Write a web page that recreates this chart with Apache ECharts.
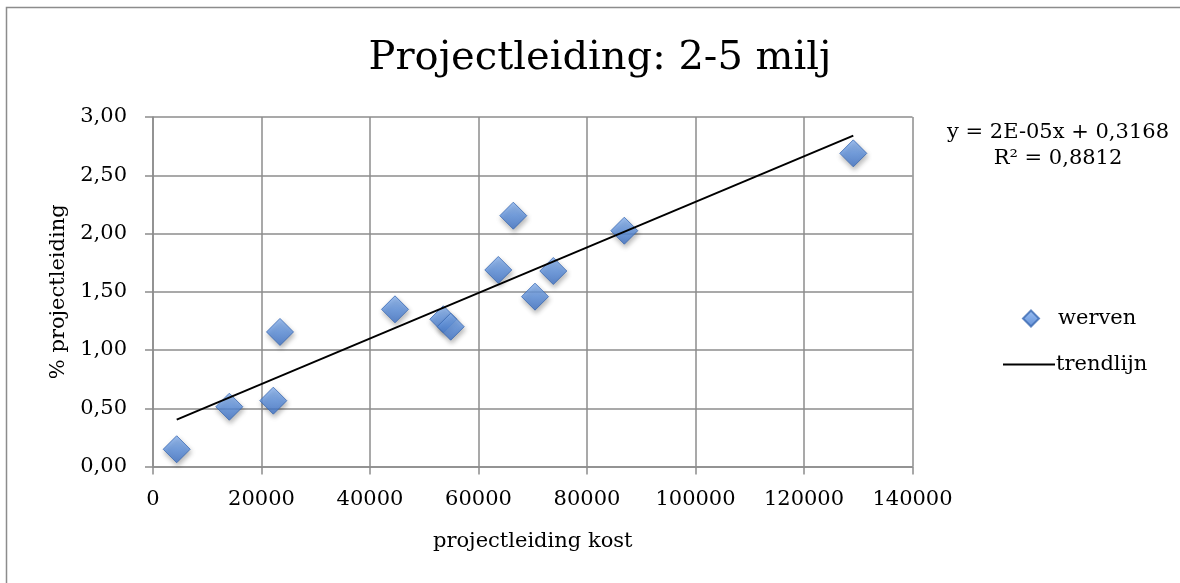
<!DOCTYPE html>
<html>
<head>
<meta charset="utf-8">
<script src="https://cdn.jsdelivr.net/npm/echarts@6/dist/echarts.min.js"></script>
<style>
  html, body { margin: 0; padding: 0; background: #ffffff; }
  #chart { width: 1180px; height: 583px; }
</style>
</head>
<body>
<div id="chart"></div>
<script>
// Projectleiding cost vs. percentage for the 2-5 million projects
const kost = [4369, 14065, 22175, 23410, 44608, 53512, 54876, 63650, 66415, 70415, 73788, 86876, 129088];
const percentage = [0.148, 0.513, 0.565, 1.155, 1.349, 1.264, 1.200, 1.687, 2.153, 1.458, 1.678, 2.024, 2.688];

// Linear trend (slope, intercept) and fit quality
const trendSlope = 0.00001955;
const trendIntercept = 0.3168;
const trendLabel = ['y = 2E-05x + 0,3168', 'R\u00B2 = 0,8812'];

const titleText = 'Projectleiding: 2-5 milj';
const xName = 'projectleiding kost';
const yName = '% projectleiding';
const seriesNames = ['werven', 'trendlijn'];

const FONT = '"DejaVu Serif", "Liberation Serif", serif';

const points = kost.map((x, i) => [x, percentage[i]]);
const xMin = Math.min(...kost), xMax = Math.max(...kost);
const trendPoints = [xMin, xMax].map(x => [x, trendSlope * x + trendIntercept]);

const chart = echarts.init(document.getElementById('chart'), null, { renderer: 'canvas' });

chart.setOption({
  backgroundColor: '#ffffff',
  animation: false,
  title: {
    text: titleText,
    left: 595, top: 34, textAlign: 'center',
    textStyle: { fontFamily: FONT, fontSize: 40, fontWeight: 'normal', color: '#000' }
  },
  grid: { left: 153, right: 267.5, top: 117, bottom: 116.5 },
  xAxis: {
    type: 'value', min: 0, max: 140000, interval: 20000,
    name: xName, nameLocation: 'middle', nameGap: 65,
    nameTextStyle: { fontFamily: FONT, fontSize: 21, color: '#000' },
    axisLine: { show: true, lineStyle: { color: '#8c8c8c', width: 1.5 } },
    axisTick: { show: true, length: 8, lineStyle: { color: '#8c8c8c', width: 1.5 } },
    axisLabel: { fontFamily: FONT, fontSize: 21, color: '#000', margin: 23, formatter: v => String(v) },
    splitLine: { show: true, lineStyle: { color: '#8c8c8c', width: 1.5 } }
  },
  yAxis: {
    type: 'value', min: 0, max: 3, interval: 0.5,
    name: yName, nameLocation: 'middle', nameGap: 80, nameRotate: 90,
    nameTextStyle: { fontFamily: FONT, fontSize: 21, color: '#000' },
    axisLine: { show: true, lineStyle: { color: '#8c8c8c', width: 1.5 } },
    axisTick: { show: true, length: 8, lineStyle: { color: '#8c8c8c', width: 1.5 } },
    axisLabel: {
      fontFamily: FONT, fontSize: 21, color: '#000', margin: 26,
      formatter: v => v.toFixed(2).replace('.', ',')
    },
    splitLine: { show: true, lineStyle: { color: '#8c8c8c', width: 1.5 } }
  },
  legend: [
    {
      data: [{ name: seriesNames[0], icon: 'diamond' }],
      left: 1017, top: 303, itemWidth: 16, itemHeight: 16,
      textStyle: { fontFamily: FONT, fontSize: 21, color: '#000', padding: [0, 0, 0, 14] }
    },
    {
      data: [{ name: seriesNames[1], icon: 'rect' }],
      left: 998, top: 349, itemWidth: 52, itemHeight: 2,
      itemStyle: { color: '#000' },
      textStyle: { fontFamily: FONT, fontSize: 21, color: '#000', padding: [0, 0, 0, -4] }
    }
  ],
  graphic: [
    {
      type: 'rect', silent: true,
      shape: { x: 6.5, y: 7.5, width: 1200, height: 600 },
      style: { fill: 'none', stroke: '#8c8c8c', lineWidth: 1.5 }
    },
    {
      type: 'text', silent: true,
      x: 1058, y: 120,
      style: {
        text: trendLabel.join('\n'), align: 'center',
        font: '21px ' + FONT, fill: '#000', lineHeight: 26
      }
    }
  ],
  series: [
    {
      name: seriesNames[0], type: 'scatter', symbol: 'diamond', symbolSize: 27,
      data: points, z: 3,
      itemStyle: {
        color: new echarts.graphic.LinearGradient(0, 0, 0, 1, [
          { offset: 0, color: '#8ab4f0' },
          { offset: 0.5, color: '#5f93e0' },
          { offset: 1, color: '#3f73c8' }
        ]),
        borderColor: '#3a69b3', borderWidth: 1,
        shadowBlur: 5, shadowColor: 'rgba(0,0,0,0.35)', shadowOffsetX: 1, shadowOffsetY: 3
      }
    },
    {
      name: seriesNames[1], type: 'line', data: trendPoints, symbol: 'none', z: 4,
      lineStyle: { color: '#000', width: 2 }, itemStyle: { color: '#000' }
    }
  ]
});
</script>
</body>
</html>
